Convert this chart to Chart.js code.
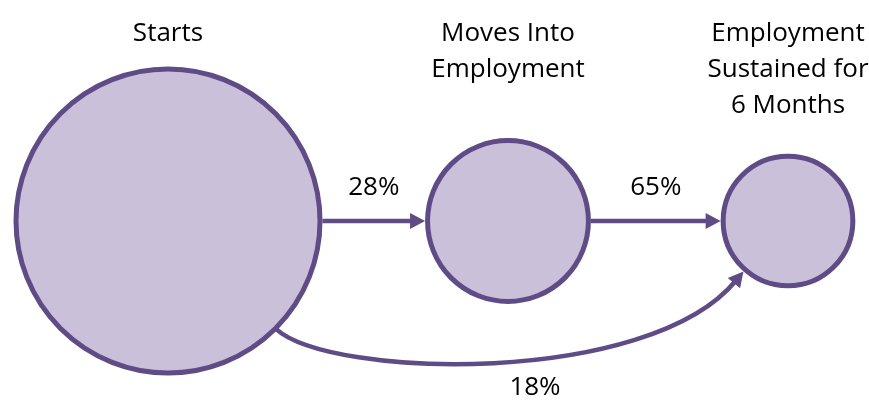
<!DOCTYPE html>
<html>
<head>
<meta charset="utf-8">
<script src="https://cdn.jsdelivr.net/npm/chart.js@4/dist/chart.umd.min.js"></script>
<style>
  html, body { margin: 0; padding: 0; background: #fff; }
  #wrap { width: 869px; height: 401px; }
</style>
</head>
<body>
<div id="wrap"><canvas id="flowChart" width="869" height="401"></canvas></div>
<script>
// etapas e valores (área do círculo proporcional ao total)
const stages = [["Starts"], ["Moves Into", "Employment"], ["Employment", "Sustained for", "6 Months"]];
const stageValues = [100, 28, 18.2];
const flowLabels = ["28%", "65%", "18%"];

// layout
const stageX = [168, 508, 788];
const centerY = 221;
const maxRadius = 152;
const stroke = "#5f4b85";
const fill = "#cbc0da";
const border = 5;
const font = "26px 'Open Sans', sans-serif";

function arrowHead(ctx, x, y, angle) {
  ctx.save();
  ctx.translate(x, y);
  ctx.rotate(angle);
  ctx.beginPath();
  ctx.moveTo(0, 0);
  ctx.lineTo(-15, -8);
  ctx.lineTo(-15, 8);
  ctx.closePath();
  ctx.fill();
  ctx.restore();
}

const flowPlugin = {
  id: "flow",
  afterDatasetsDraw(chart) {
    const ctx = chart.ctx;
    const pts = chart.getDatasetMeta(0).data;
    const r = pts.map((p) => p.options.radius + border / 2);

    ctx.save();
    ctx.strokeStyle = stroke;
    ctx.fillStyle = stroke;
    ctx.lineWidth = 4.5;

    // setas retas
    for (let i = 0; i < 2; i++) {
      const x0 = pts[i].x + r[i];
      const x1 = pts[i + 1].x - r[i + 1];
      ctx.beginPath();
      ctx.moveTo(x0, pts[i].y);
      ctx.lineTo(x1 - 12, pts[i].y);
      ctx.stroke();
      arrowHead(ctx, x1, pts[i].y, 0);
    }

    // seta curva (Starts -> 6 meses)
    const a0 = Math.PI / 4;
    const a1 = Math.PI * 0.73;
    const sx = pts[0].x + Math.cos(a0) * (r[0] - 2), sy = pts[0].y + Math.sin(a0) * (r[0] - 2);
    const ex = pts[2].x + Math.cos(a1) * r[2], ey = pts[2].y + Math.sin(a1) * r[2];
    const c1x = sx + 55, c1y = sy + 50;
    const c2x = ex - 95, c2y = ey + 115;
    const ang = Math.atan2(ey - c2y, ex - c2x);
    ctx.beginPath();
    ctx.moveTo(sx, sy);
    ctx.bezierCurveTo(c1x, c1y, c2x, c2y, ex - Math.cos(ang) * 12, ey - Math.sin(ang) * 12);
    ctx.stroke();
    arrowHead(ctx, ex, ey, ang);

    // textos
    ctx.fillStyle = "#000";
    ctx.font = font;
    ctx.textAlign = "center";
    ctx.textBaseline = "alphabetic";
    stages.forEach((lines, i) => {
      lines.forEach((t, j) => ctx.fillText(t, pts[i].x, 41 + j * 36));
    });
    ctx.fillText(flowLabels[0], (pts[0].x + r[0] + pts[1].x - r[1]) / 2, 195);
    ctx.fillText(flowLabels[1], (pts[1].x + r[1] + pts[2].x - r[2]) / 2, 195);
    ctx.fillText(flowLabels[2], 535, 395);
    ctx.restore();
  }
};

const chart = new Chart(document.getElementById("flowChart").getContext("2d"), {
  type: "bubble",
  data: {
    datasets: [{
      data: stageValues.map((v, i) => ({ x: stageX[i], y: centerY, v: v })),
      radius: (c) => maxRadius * Math.sqrt(c.raw.v / stageValues[0]),
      backgroundColor: fill,
      borderColor: stroke,
      borderWidth: border,
      clip: false
    }]
  },
  options: {
    responsive: false,
    animation: false,
    events: [],
    layout: { autoPadding: false, padding: 0 },
    plugins: { legend: { display: false }, tooltip: { enabled: false } },
    scales: {
      x: { type: "linear", min: 0, max: 869, display: false },
      y: { type: "linear", min: 0, max: 401, reverse: true, display: false }
    }
  },
  plugins: [flowPlugin]
});
</script>
</body>
</html>
